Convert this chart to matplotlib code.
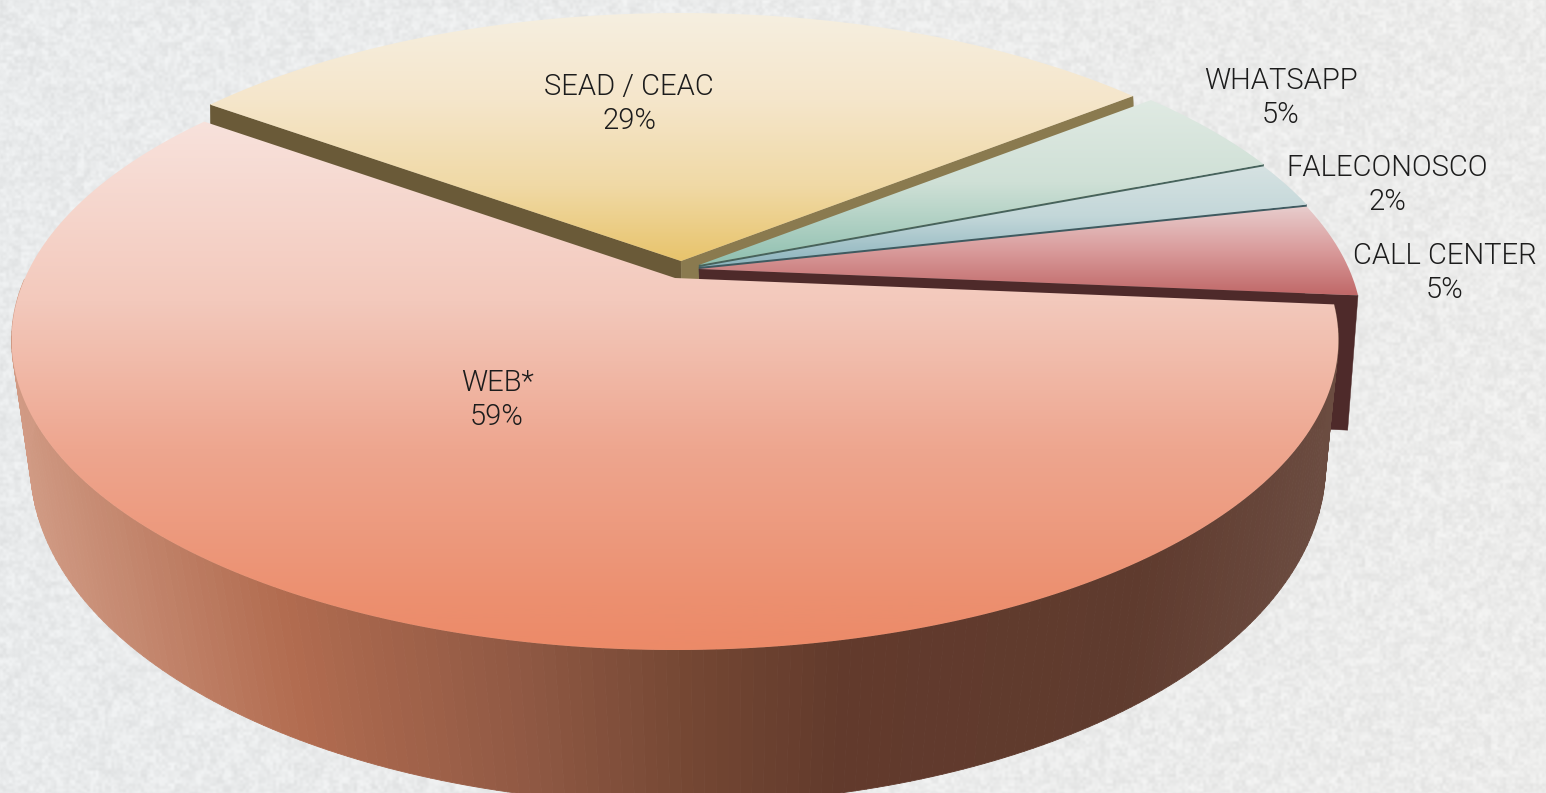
import numpy as np
import matplotlib
matplotlib.use("Agg")
import matplotlib.pyplot as plt
from matplotlib.collections import PolyCollection
from matplotlib.colors import LinearSegmentedColormap
from matplotlib.patches import Polygon

categories = ["WEB*", "SEAD / CEAC", "WHATSAPP", "FALECONOSCO", "CALL CENTER"]
shares = [58.6, 29.3, 4.8, 2.4, 4.9]

# screen shift of each exploded slice
offsets = [(0, 0), (6, -17), (24, -13), (24, -11), (24, -9)]
label_pos = [(497, 400), (629, 104), (1281, 98), (1387, 185), (1445, 273)]

top_stops = [
    [(0, "#f8e2dc"), (0.34, "#f3c9bc"), (0.62, "#eea68f"), (0.9, "#ec9070"), (1, "#ec8a68")],
    [(0, "#f6efe0"), (0.35, "#f5e6cb"), (0.7, "#f0d9a5"), (1, "#e8c46c")],
    [(0, "#e0eae3"), (0.5, "#cfe0d6"), (1, "#8fc0b0")],
    [(0, "#d6e2e2"), (0.5, "#c3d7d9"), (1, "#8bb3bd")],
    [(0, "#e8cdcd"), (0.5, "#d99b9b"), (1, "#c06868")],
]
cut_colors = ["#5f3a2e", "#8a7a4f", "#47635c", "#3f5a60", "#4e2a2a"]
side_stops = [(0, "#d39e88"), (0.22, "#b26c50"), (0.4, "#8f5843"), (0.52, "#744733"),
              (0.63, "#623a2c"), (0.85, "#5f3b2e"), (1, "#6c4d42")]

START_ANGLE = -5
TOP = dict(x=675, y=278, a=650, b=297.6, p=0.2)
BOTTOM = dict(x=678, y=410, a=639, b=330, p=0.162)


def project(angle, plane, off=(0, 0)):
    t = np.radians(angle)
    w = 1 + plane["p"] * np.sin(t)
    x = plane["x"] + off[0] + plane["a"] * np.cos(t) / w
    y = plane["y"] + off[1] - plane["b"] * np.sin(t) / w
    return np.column_stack([np.atleast_1d(x), np.atleast_1d(y)])


def centre(plane, off):
    return (plane["x"] + off[0], plane["y"] + off[1])


def paper_texture(w, h):
    # speckled paper look, hashed from the pixel position
    yy, xx = np.mgrid[0:h, 0:w]
    def hashed(cell):
        n = np.sin((xx // cell) * 12.9898 + (yy // cell) * 78.233) * 43758.5453
        return n - np.floor(n)
    tex = hashed(3) * 0.6 + hashed(7) * 0.4
    for _ in range(2):
        tex = (tex + np.roll(tex, 1, 0) + np.roll(tex, -1, 0) + np.roll(tex, 1, 1) + np.roll(tex, -1, 1)) / 5
    tex = (tex - tex.mean()) / tex.std()
    ramp = np.linspace(0, 1, w)[None, :]
    img = np.dstack([233 + 3 * ramp, 235 + 1 * ramp, 236 - 1 * ramp]) + tex[:, :, None] * 3.2
    return np.clip(img, 0, 255).astype(np.uint8)


fig = plt.figure(figsize=(15.46, 7.93), dpi=100)
ax = fig.add_axes([0, 0, 1, 1])
ax.imshow(paper_texture(1546, 793), extent=[0, 1546, 793, 0], aspect="auto", zorder=0)

edges = START_ANGLE - np.cumsum([0] + shares) * 3.6
z = 1


def arc(i):
    return np.linspace(edges[i], edges[i + 1], 240)


def cut_face(i, angle, color):
    global z
    pts = [centre(TOP, offsets[i]), project(angle, TOP, offsets[i])[0],
           project(angle, BOTTOM, offsets[i])[0], centre(BOTTOM, offsets[i])]
    ax.add_patch(Polygon(pts, closed=True, fc=color, ec=color, lw=0.3, zorder=z))
    z += 1


def top_face(i):
    global z
    pts = np.vstack([centre(TOP, offsets[i]), project(arc(i), TOP, offsets[i])])
    patch = Polygon(pts, closed=True, fc="none", ec="none", transform=ax.transData)
    ax.add_patch(patch)
    cmap = LinearSegmentedColormap.from_list("top%d" % i, top_stops[i])
    im = ax.imshow(np.linspace(0, 1, 512)[:, None], cmap=cmap, aspect="auto", zorder=z,
                   extent=[pts[:, 0].min(), pts[:, 0].max(), pts[:, 1].max(), pts[:, 1].min()])
    im.set_clip_path(patch)
    z += 1


def side_wall(i):
    global z
    a = arc(i)
    a = a[a > -180]  # the far part of the rim is hidden anyway
    t, b = project(a, TOP, offsets[i]), project(a, BOTTOM, offsets[i])
    quads = [[t[k], t[k + 1], b[k + 1], b[k]] for k in range(len(a) - 1)]
    cmap = LinearSegmentedColormap.from_list("side", side_stops)
    cols = cmap(np.clip((t[:-1, 0] + b[:-1, 0]) / 2 / 1340, 0, 1))
    ax.add_collection(PolyCollection(quads, facecolors=cols, edgecolors=cols, linewidths=0.6, zorder=z))
    z += 1


# painted far to near
cut_face(1, edges[1], "#6a5a38")
cut_face(1, edges[2], cut_colors[1])
top_face(1)
for i in [2, 3, 4]:
    cut_face(i, edges[i + 1], cut_colors[i])
    top_face(i)
side_wall(0)
top_face(0)

for name, share, (x, y) in zip(categories, shares, label_pos):
    ax.text(x, y, f"{name}\n{round(share)}%", ha="center", va="center", fontsize=21,
            family=["Roboto", "Lato", "DejaVu Sans"], fontweight=300, color="#1c1c1c", linespacing=1.28, zorder=z)

ax.set_xlim(0, 1546)
ax.set_ylim(793, 0)
ax.axis("off")
fig.savefig("out.png", dpi=100)
